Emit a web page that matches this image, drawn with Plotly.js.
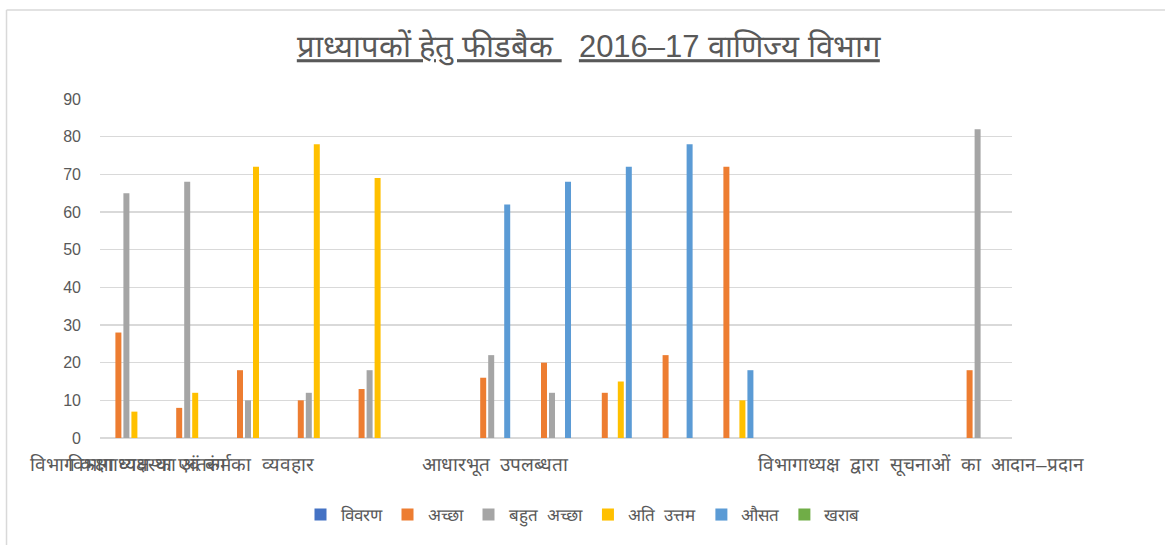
<!DOCTYPE html>
<html>
<head>
<meta charset="utf-8">
<script src="https://cdn.plot.ly/plotly-3.0.1.min.js"></script>
<style>html,body{margin:0;padding:0;background:#fff;}#chart{width:1165px;height:545px;}</style>
</head>
<body>
<div id="chart"></div>
<script>
// Category labels (blank entries are unlabeled rows)
const categories = [
  'विभाग कक्षा व्यवस्था एवं कर्म',
  'विभागाध्यक्ष का अंतरंग का  व्यवहार',
  '', '', '', '',
  'आधारभूत  उपलब्धता',
  '', '', '', '', '', '',
  'विभागाध्यक्ष  द्वारा  सूचनाओं  का  आदान–प्रदान',
  ''
];
const seriesNames = ['विवरण', 'अच्छा', 'बहुत  अच्छा', 'अति  उत्तम', 'औसत', 'खराब'];
const seriesColors = ['#4472C4', '#ED7D31', '#A5A5A5', '#FFC000', '#5B9BD5', '#70AD47'];

const vivaran   = [null, null, null, null, null, null, null, null, null, null, null, null, null, null, null];
const achchha   = [28, 8, 18, 10, 13, null, 16, 20, 12, 22, 72, null, null, null, 18];
const bahutAchchha = [65, 68, 10, 12, 18, null, 22, 12, null, null, null, null, null, null, 82];
const atiUttam  = [7, 12, 72, 78, 69, null, null, null, 15, null, 10, null, null, null, null];
const ausat     = [null, null, null, null, null, null, 62, 68, 72, 78, 18, null, null, null, null];
const kharab    = [null, null, null, null, null, null, null, null, null, null, null, null, null, null, null];

const yTicks = [0, 10, 20, 30, 40, 50, 60, 70, 80, 90];

const xIdx = categories.map((_, i) => i);
const tickvals = [], ticktext = [];
categories.forEach((c, i) => { if (c) { tickvals.push(i); ticktext.push(c); } });

const allSeries = [vivaran, achchha, bahutAchchha, atiUttam, ausat, kharab];
const traces = allSeries.map((vals, k) => ({
  type: 'bar',
  name: seriesNames[k],
  x: xIdx,
  y: vals,
  marker: {color: seriesColors[k]},
  hoverinfo: 'x+y+name'
}));

const txt = '#595959';
const layout = {
  width: 1165, height: 545,
  margin: {l: 100, r: 153, t: 99, b: 107},
  paper_bgcolor: '#fff', plot_bgcolor: '#fff',
  font: {family: 'Liberation Sans, Arial, sans-serif', color: txt},
  title: {
    text: '<u>प्राध्यापकों हेतु फीडबैक </u>  <u>2016–17 वाणिज्य विभाग</u>',
    font: {size: 31, color: txt, family: 'Liberation Sans, Arial, sans-serif'},
    x: 0.505, xref: 'container', y: 0.915, yref: 'container', yanchor: 'middle'
  },
  barmode: 'group',
  bargap: 0.21,
  bargroupgap: 0.25,
  xaxis: {
    range: [-0.5, 14.5],
    tickmode: 'array', tickvals: tickvals, ticktext: ticktext,
    tickangle: 0,
    showgrid: false, zeroline: false,
    showline: false, ticks: '',
    tickfont: {size: 19, color: txt},
    ticklabelstandoff: 13,
    fixedrange: true
  },
  yaxis: {
    range: [0, 90],
    tickmode: 'array', tickvals: yTicks,
    showgrid: true, gridcolor: '#d9d9d9', gridwidth: 1.3,
    zeroline: true, zerolinecolor: '#d9d9d9', zerolinewidth: 1.6,
    showline: false, ticks: '',
    tickfont: {size: 16, color: txt},
    ticklabelstandoff: 18,
    fixedrange: true
  },
  legend: {
    orientation: 'h',
    x: 0.5, xanchor: 'center', xref: 'container',
    y: 0.055, yanchor: 'middle', yref: 'container',
    font: {size: 17, color: txt},
    itemwidth: 30,
    traceorder: 'normal'
  },
  shapes: [
    {type: 'line', xref: 'paper', yref: 'paper', x0: -0.1025, x1: 1.2, y0: 1.2627, y1: 1.2627, line: {color: '#d9d9d9', width: 1.5}},
    {type: 'line', xref: 'paper', yref: 'paper', x0: -0.1025, x1: -0.1025, y0: 1.2627, y1: -0.4, line: {color: '#d9d9d9', width: 1.5}}
  ],
  showlegend: true
};

Plotly.newPlot('chart', traces, layout, {displayModeBar: false, staticPlot: true});
</script>
</body>
</html>
